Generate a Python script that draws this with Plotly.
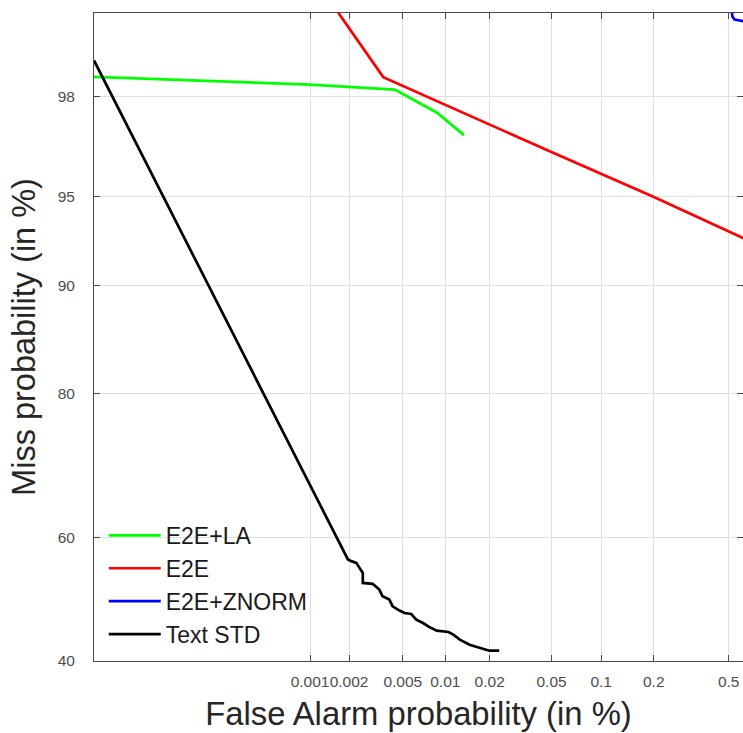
import plotly.graph_objects as go
from statistics import NormalDist

# ---------------- data (percent) ----------------
e2e_la_fa = [1.40e-5, 0.001, 0.00437, 0.00871, 0.01344]
e2e_la_miss = [98.365, 98.23, 98.14, 97.67, 97.11]

e2e_fa = [0.00132, 0.0036, 0.0495, 0.199, 0.714]
e2e_miss = [99.33, 98.36, 96.63, 95.0, 92.57]

e2e_znorm_fa = [0.51, 0.522, 0.535, 0.6, 1.0]
e2e_znorm_miss = [99.3, 99.14, 99.11, 99.09, 99.0]

text_std_fa = [1.40e-5, 0.00191, 0.00196, 0.00208, 0.00227, 0.0024, 0.00254, 0.00254,
               0.00301, 0.00337, 0.00356, 0.00399, 0.00422, 0.00473, 0.00514, 0.00575,
               0.00625, 0.00697, 0.00779, 0.00871, 0.01052, 0.01135, 0.01258, 0.01466,
               0.01709, 0.0199, 0.02312]
text_std_miss = [98.62, 56.96, 56.43, 56.16, 55.88, 55.07, 54.26, 52.63,
                 52.47, 51.55, 50.46, 49.92, 48.82, 48.12, 47.73, 47.56,
                 46.65, 46.10, 45.40, 44.86, 44.64, 44.22, 43.41, 42.60,
                 42.06, 41.64, 41.64]

x_tick_vals = [0.001, 0.002, 0.005, 0.01, 0.02, 0.05, 0.1, 0.2, 0.5]
x_tick_text = ["0.001", "0.002", "0.005", "0.01", "0.02", "0.05", "0.1", "0.2", "0.5"]
y_tick_vals = [40, 60, 80, 90, 95, 98]
y_tick_text = ["40", "60", "80", "90", "95", "98"]

x_limits = [1.40e-5, 0.59]
y_limits = [40, 99.173]

series_names = ["E2E+LA", "E2E", "E2E+ZNORM", "Text STD"]
series_colors = ["#00ff00", "#ff0000", "#0000ff", "#000000"]

# ---------------- normal-deviate (DET) scale ----------------
_nd = NormalDist()


def probit(values):
    return [_nd.inv_cdf(v / 100.0) for v in values]


fig = go.Figure()
series = [(e2e_la_fa, e2e_la_miss), (e2e_fa, e2e_miss),
          (e2e_znorm_fa, e2e_znorm_miss), (text_std_fa, text_std_miss)]
for (fa, miss), name, col in zip(series, series_names, series_colors):
    fig.add_trace(go.Scatter(x=probit(fa), y=probit(miss), mode="lines", name=name,
                             line=dict(color=col, width=2.7)))

# invisible trace for right-side mirrored ticks
fig.add_trace(go.Scatter(x=probit(x_limits), y=probit(y_limits), yaxis="y2",
                         mode="lines", line=dict(width=0), showlegend=False,
                         hoverinfo="skip"))

font_family = "Liberation Sans, Arial, sans-serif"
axis_col = "#4a4a4a"
grid_col = "#e0e0e0"

fig.update_layout(
    width=743, height=733,
    margin=dict(l=94, r=0, t=13, b=72),
    paper_bgcolor="white", plot_bgcolor="white",
    font=dict(family=font_family, color="#262626"),
    showlegend=True,
    legend=dict(x=0.015, y=0.227, xanchor="left", yanchor="top",
                bgcolor="rgba(0,0,0,0)", borderwidth=0,
                font=dict(size=23, color="#1a1a1a", family=font_family),
                itemwidth=52, tracegroupgap=0),
    xaxis=dict(range=probit(x_limits), tickvals=probit(x_tick_vals), ticktext=x_tick_text,
               tickangle=0, ticks="inside", ticklen=6, tickcolor=axis_col,
               showline=True, linecolor=axis_col, linewidth=1, mirror="ticks",
               showgrid=True, gridcolor=grid_col, gridwidth=1, zeroline=False,
               ticklabelstandoff=6,
               tickfont=dict(size=15.5, color="#4d4d4d"),
               title=dict(text="False Alarm probability (in %)",
                          font=dict(size=32.8, color="#262626"), standoff=13)),
    yaxis=dict(range=probit(y_limits), tickvals=probit(y_tick_vals), ticktext=y_tick_text,
               ticks="inside", ticklen=6, tickcolor=axis_col,
               showline=True, linecolor=axis_col, linewidth=1, mirror=False,
               showgrid=True, gridcolor=grid_col, gridwidth=1, zeroline=False,
               ticklabelstandoff=15,
               tickfont=dict(size=15.5, color="#4d4d4d"),
               title=dict(text="Miss probability (in %)",
                          font=dict(size=32.5, color="#262626"), standoff=12)),
    yaxis2=dict(range=probit(y_limits), tickvals=probit(y_tick_vals), overlaying="y",
                side="right", ticks="inside", ticklen=6, tickcolor=axis_col,
                showticklabels=False, showgrid=False, showline=False, zeroline=False),
)

# remove the default page margin so the 743x733 figure fills the window exactly
fig.write_html("out.html",
               config={"displayModeBar": False},
               post_script="document.body.style.margin='0';document.body.style.overflow='hidden';")
